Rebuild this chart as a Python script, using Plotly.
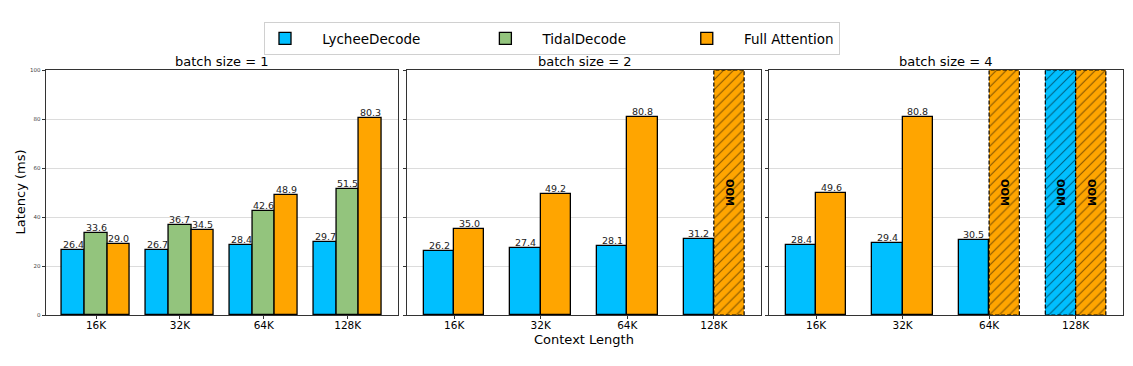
import plotly.graph_objects as go

# ---------------- data ----------------
categories = ["16K", "32K", "64K", "128K"]
series_names = ["LycheeDecode", "TidalDecode", "Full Attention"]
colors = ["#00BFFF", "#93C47D", "#FFA500"]

bs1_lychee = [26.4, 26.7, 28.4, 29.7]
bs1_tidal = [33.6, 36.7, 42.6, 51.5]
bs1_full = [29.0, 34.5, 48.9, 80.3]

bs2_lychee = [26.2, 27.4, 28.1, 31.2]
bs2_full = [35.0, 49.2, 80.8, None]   # None = OOM

bs4_lychee = [28.4, 29.4, 30.5, None]
bs4_full = [49.6, 80.8, None, None]

panel_titles = ["batch size = 1", "batch size = 2", "batch size = 4"]
Y_MAX = 100

panels = [
    [(0, bs1_lychee), (1, bs1_tidal), (2, bs1_full)],
    [(0, bs2_lychee), (2, bs2_full)],
    [(0, bs4_lychee), (2, bs4_full)],
]
bar_widths = [0.27, 0.35, 0.35]
x_ranges = [[-0.6, 3.6], [-0.545, 3.545], [-0.545, 3.545]]

W, H = 1133, 366
OFF = 8  # page body margin


def px(xp):
    return (xp - OFF) / W


def py(yp):
    return 1 - (yp - OFF) / H


x_domains = [[px(45.7), px(398)], [px(407), px(761)], [px(769), px(1122.7)]]
y_domain = [py(315), py(70)]

NB = "\u00a0"
legend_labels = [NB * 4 + series_names[0] + NB * 14,
                 NB * 4 + series_names[1] + NB * 13,
                 NB * 4 + series_names[2]]

fig = go.Figure()
shapes = []
annotations = []
FONT = "DejaVu Sans"

for p, (series, bw) in enumerate(zip(panels, bar_widths)):
    xa = "x" if p == 0 else f"x{p+1}"
    ya = "y" if p == 0 else f"y{p+1}"
    n = len(series)
    for k, (si, vals) in enumerate(series):
        off = (k - (n - 1) / 2) * bw
        xs, ys = [], []
        oxs = []
        for i, v in enumerate(vals):
            if v is None:
                oxs.append(i + off)
            else:
                xs.append(i + off)
                ys.append(v)
        fig.add_trace(go.Bar(
            x=xs, y=ys, width=bw, xaxis=xa, yaxis=ya,
            name=legend_labels[si], legendgroup=series_names[si],
            showlegend=(p == 0),
            marker=dict(color=colors[si], line=dict(color="black", width=1.3)),
        ))
        for x, v in zip(xs, ys):
            annotations.append(dict(text=f"{v:.1f}", x=x, y=v, xref=xa, yref=ya,
                                    showarrow=False, xanchor="center", yanchor="bottom",
                                    yshift=-2, font=dict(size=9.5, color="#222", family=FONT)))
        if oxs:
            fig.add_trace(go.Bar(
                x=oxs, y=[Y_MAX] * len(oxs), width=bw, xaxis=xa, yaxis=ya,
                name=legend_labels[si], legendgroup=series_names[si], showlegend=False,
                marker=dict(color=colors[si], line=dict(width=0),
                            pattern=dict(shape="/", fgcolor="black", bgcolor=colors[si],
                                         size=7, solidity=0.15)),
                text=["OOM"] * len(oxs), textposition="inside", textangle=90,
                insidetextanchor="middle",
                insidetextfont=dict(size=10, color="black", family=FONT, weight="bold"),
            ))
            for ox in oxs:
                shapes.append(dict(type="rect", xref=xa, yref=ya,
                                   x0=ox - bw / 2, x1=ox + bw / 2, y0=0, y1=Y_MAX,
                                   line=dict(color="black", width=1.2, dash="4px,2px"),
                                   layer="above"))
    annotations.append(dict(text=panel_titles[p], x=sum(x_domains[p]) / 2, y=py(61.5),
                            xref="paper", yref="paper", showarrow=False,
                            xanchor="center", yanchor="middle",
                            font=dict(size=13, color="black", family=FONT)))

axis_common = dict(showline=True, mirror=True, linecolor="#333", linewidth=1,
                   ticks="outside", ticklen=3, tickcolor="#333", zeroline=False)

layout = dict(
    width=W, height=H, margin=dict(l=0, r=0, t=0, b=0, autoexpand=False),
    paper_bgcolor="white", plot_bgcolor="white",
    barmode="overlay", bargap=0,
    font=dict(family=FONT, color="black"),
    showlegend=True,
    legend=dict(orientation="h", x=px(264), y=py(22), xanchor="left", yanchor="top",
                bgcolor="white", bordercolor="#d0d0d0", borderwidth=1,
                font=dict(size=13.5, family=FONT), traceorder="normal"),
)
for p in range(3):
    xk = "xaxis" if p == 0 else f"xaxis{p+1}"
    yk = "yaxis" if p == 0 else f"yaxis{p+1}"
    ya = "y" if p == 0 else f"y{p+1}"
    xa = "x" if p == 0 else f"x{p+1}"
    layout[xk] = dict(domain=x_domains[p], anchor=ya, range=x_ranges[p],
                      tickvals=list(range(len(categories))), ticktext=categories,
                      showgrid=False, tickfont=dict(size=10.5, family=FONT, color="black"),
                      ticklabelstandoff=-3,
                      **axis_common)
    layout[yk] = dict(domain=y_domain, anchor=xa, range=[0, Y_MAX], dtick=20,
                      showgrid=True, gridcolor="#dcdcdc", gridwidth=1,
                      showticklabels=(p == 0),
                      tickfont=dict(size=5.5, family=FONT, color="#444"),
                      **axis_common)

annotations.append(dict(text="Context Length", x=px(584), y=py(339),
                        xref="paper", yref="paper", showarrow=False,
                        xanchor="center", yanchor="middle",
                        font=dict(size=13, color="black", family=FONT)))
annotations.append(dict(text="Latency (ms)", x=px(20), y=sum(y_domain) / 2,
                        xref="paper", yref="paper", showarrow=False, textangle=-90,
                        xanchor="center", yanchor="middle",
                        font=dict(size=13, color="black", family=FONT)))
layout["annotations"] = annotations
layout["shapes"] = shapes

fig.update_layout(**layout)
fig.write_html("out.html")
